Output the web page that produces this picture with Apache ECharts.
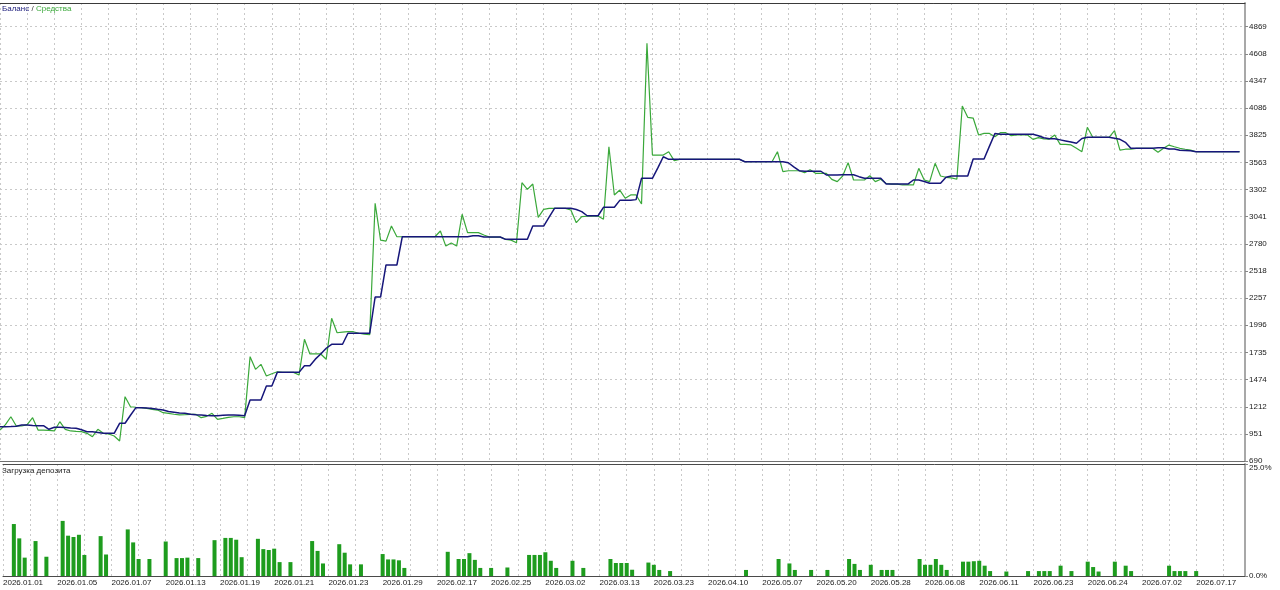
<!DOCTYPE html>
<html>
<head>
<meta charset="utf-8">
<script src="https://cdn.jsdelivr.net/npm/echarts@6/dist/echarts.min.js"></script>
<style>
html,body{margin:0;padding:0;background:#fff;}
#chart{width:1280px;height:590px;}
</style>
</head>
<body>
<div id="chart"></div>
<script>
const dateLabels = ['2026.01.01','2026.01.05','2026.01.07','2026.01.13','2026.01.19','2026.01.21','2026.01.23','2026.01.29','2026.02.17','2026.02.25','2026.03.02','2026.03.13','2026.03.23','2026.04.10','2026.05.07','2026.05.20','2026.05.28','2026.06.08','2026.06.11','2026.06.23','2026.06.24','2026.07.02','2026.07.17'];

const priceTicks = [690, 951, 1212, 1474, 1735, 1996, 2257, 2518, 2780, 3041, 3302, 3563, 3825, 4086, 4347, 4608, 4869];
const loadTicks = [0, 25];

const balance = [
1020,1020,1022,1025,1036,1036,1032,1030,1030,995,
1014,1014,1012,1008,1005,990,972,972,965,956,
956,956,1053,1053,1130,1203,1203,1200,1195,1187,
1180,1166,1160,1152,1149,1140,1135,1133,1128,1126,
1126,1130,1133,1133,1130,1125,1277,1277,1277,1412,
1412,1543,1543,1543,1543,1543,1607,1607,1670,1720,
1775,1813,1813,1813,1919,1919,1919,1919,1919,2268,
2268,2576,2576,2576,2848,2848,2848,2848,2848,2848,
2848,2848,2848,2848,2848,2848,2848,2858,2858,2845,
2845,2845,2845,2823,2823,2823,2823,2823,2951,2951,
2951,3036,3121,3121,3121,3121,3110,3090,3050,3050,
3050,3131,3131,3131,3198,3198,3198,3205,3410,3410,
3410,3510,3618,3593,3593,3593,3593,3593,3593,3593,
3593,3593,3593,3593,3593,3593,3593,3570,3570,3570,
3570,3570,3570,3570,3570,3560,3520,3483,3478,3478,
3478,3478,3442,3442,3442,3445,3445,3445,3426,3410,
3410,3410,3410,3355,3355,3355,3355,3355,3394,3394,
3380,3362,3362,3362,3420,3432,3432,3432,3432,3596,
3596,3596,3720,3842,3835,3835,3835,3835,3835,3835,
3835,3820,3800,3790,3790,3780,3770,3760,3747,3793,
3805,3805,3805,3805,3805,3795,3785,3756,3699,3699,
3699,3699,3699,3705,3705,3692,3692,3680,3678,3676,
3666,3666,3666,3666,3666,3666,3666,3666,3666
];

const equity = [
988,1040,1116,1027,1027,1040,1107,988,988,985,
979,1068,995,979,975,972,956,924,995,956,
950,930,882,1309,1212,1207,1203,1195,1187,1180,
1155,1149,1140,1133,1135,1138,1140,1107,1120,1149,
1091,1100,1110,1116,1116,1107,1694,1572,1620,1508,
1530,1549,1543,1543,1543,1517,1861,1720,1720,1720,
1669,2063,1924,1930,1934,1934,1919,1910,1905,3170,
2816,2806,2951,2848,2848,2848,2850,2848,2848,2848,
2848,2903,2758,2787,2758,3064,2887,2887,2887,2865,
2845,2845,2845,2823,2815,2790,3368,3304,3355,3035,
3112,3121,3121,3121,3121,3105,2983,3041,3045,3047,
3047,3016,3714,3250,3297,3218,3250,3250,3163,4709,
3634,3634,3634,3666,3580,3593,3593,3593,3593,3593,
3593,3593,3593,3593,3593,3593,3593,3570,3570,3570,
3570,3570,3570,3666,3474,3483,3483,3483,3464,3493,
3458,3458,3458,3400,3378,3432,3561,3394,3394,3394,
3435,3378,3401,3360,3355,3355,3346,3346,3346,3506,
3394,3378,3554,3432,3420,3415,3401,4106,3997,3990,
3827,3842,3842,3810,3849,3849,3820,3827,3827,3827,
3785,3801,3790,3788,3827,3737,3737,3731,3700,3666,
3901,3805,3805,3805,3805,3868,3682,3690,3690,3699,
3699,3699,3699,3660,3700,3730,3714,3699,3690,3682,
3666,3666,3666,3666,3666,3666,3666,3666,3666
];

const loadIndex = [2,3,4,6,8,11,12,13,14,15,18,19,23,24,25,27,30,32,33,34,36,39,41,42,43,44,47,48,49,50,51,53,57,58,59,62,63,64,66,70,71,72,73,74,
82,84,85,86,87,88,90,93,97,98,99,100,101,102,105,107,112,113,114,115,116,119,120,121,123,137,143,145,146,149,152,156,
157,158,160,162,163,164,169,170,171,172,173,174,177,178,179,180,181,182,185,189,191,192,193,195,197,200,201,202,205,207,208,215,216,217,218,220];
const loadPct = [11.6,8.4,4.1,7.8,4.3,12.3,9.0,8.7,9.2,4.7,8.9,4.8,10.4,7.5,3.8,3.8,7.7,4.0,4.0,4.1,4.0,8.0,8.5,8.5,8.1,4.2,8.3,6.0,5.8,6.1,3.1,3.1,7.8,5.6,2.8,7.1,5.2,2.6,2.6,4.9,3.7,3.7,3.5,1.8,
5.4,3.8,3.8,5.1,3.6,1.8,1.8,1.9,4.7,4.7,4.7,5.3,3.4,1.8,3.4,1.8,3.8,2.9,2.9,2.9,1.4,3.0,2.5,1.35,1.1,1.35,3.8,2.8,1.35,1.35,1.35,3.8,
2.7,1.35,2.5,1.35,1.35,1.35,3.8,2.5,2.5,3.8,2.5,1.35,3.2,3.2,3.3,3.4,2.3,1.1,1.0,1.1,1.1,1.1,1.1,2.3,1.1,3.2,2.0,1.0,3.2,2.3,1.1,2.3,1.1,1.1,1.1,1.1];

const FONT = 'Liberation Sans';
const gridDash = {show: true, lineStyle: {color: '#c9c9c9', width: 1, type: [2, 3]}};
const xMax = 229;

const chart = echarts.init(document.getElementById('chart'), null, {renderer: 'canvas'});
const baseX = {type: 'value', min: 0, max: xMax, interval: 5};

chart.setOption({
  animation: false,
  backgroundColor: '#ffffff',
  title: [
    {text: '{b|Баланс} {s|/} {g|Средства}', left: 2, top: 5, padding: 0,
     textStyle: {fontSize: 8, fontFamily: FONT, fontWeight: 'normal',
       rich: {b: {color: '#22227f', fontSize: 8, fontFamily: FONT},
              s: {color: '#333333', fontSize: 8, fontFamily: FONT},
              g: {color: '#3aa83a', fontSize: 8, fontFamily: FONT}}}},
    {text: 'Загрузка депозита', left: 2, top: 467, padding: 0,
     textStyle: {fontSize: 8, fontFamily: FONT, fontWeight: 'normal', color: '#222222'}}
  ],
  grid: [
    {left: 0, right: 35, top: 3, height: 458},
    {left: 0, right: 35, top: 464, height: 112}
  ],
  xAxis: [
    Object.assign({}, baseX, {gridIndex: 0, position: 'bottom',
      axisLine: {show: true, onZero: false, lineStyle: {color: '#707070', width: 1}},
      axisTick: {show: false}, axisLabel: {show: false}, splitLine: gridDash}),
    Object.assign({}, baseX, {gridIndex: 0, position: 'top',
      axisLine: {show: true, onZero: false, lineStyle: {color: '#3a3a3a', width: 1}},
      axisTick: {show: false}, axisLabel: {show: false}, splitLine: {show: false}}),
    Object.assign({}, baseX, {gridIndex: 1, position: 'bottom',
      axisLine: {show: true, onZero: false, lineStyle: {color: '#4a4a4a', width: 1}},
      axisTick: {show: false},
      axisLabel: {show: true, align: 'left', margin: 3, fontSize: 8, fontFamily: FONT, color: '#1a1a1a',
        formatter: function (v) { return (v % 10 === 0 && dateLabels[v / 10] !== undefined) ? dateLabels[v / 10] : ''; }},
      splitLine: gridDash}),
    Object.assign({}, baseX, {gridIndex: 1, position: 'top',
      axisLine: {show: true, onZero: false, lineStyle: {color: '#4a4a4a', width: 1}},
      axisTick: {show: false}, axisLabel: {show: false}, splitLine: {show: false}})
  ],
  yAxis: [
    {type: 'value', gridIndex: 0, position: 'right', min: 690, max: 5097,
     axisLine: {show: true, onZero: false, lineStyle: {color: '#a8a8a8', width: 2}},
     axisTick: {show: true, length: 3, lineStyle: {color: '#888888'}, customValues: priceTicks},
     axisLabel: {show: true, margin: 4, fontSize: 8, fontFamily: FONT, color: '#1a1a1a', customValues: priceTicks,
       formatter: function (v) { return String(Math.round(v)); }},
     splitLine: {show: true, lineStyle: {color: '#c9c9c9', width: 1, type: [2, 3]}}},
    {type: 'value', gridIndex: 1, position: 'right', min: 0, max: 25,
     axisLine: {show: true, onZero: false, lineStyle: {color: '#a8a8a8', width: 2}},
     axisTick: {show: true, length: 3, lineStyle: {color: '#888888'}, customValues: loadTicks},
     axisLabel: {show: true, margin: 4, fontSize: 8, fontFamily: FONT, color: '#1a1a1a', customValues: loadTicks,
       formatter: function (v) { return v >= 25 ? '\n' + v.toFixed(1) + '%' : v.toFixed(1) + '%'; }},
     splitLine: {show: false}}
  ],
  series: [
    {name: 'Средства', type: 'line', xAxisIndex: 0, yAxisIndex: 0, showSymbol: false, z: 2,
     data: equity.map(function (v, i) { return [i, v]; }),
     lineStyle: {color: '#3aa83a', width: 1.2}},
    {name: 'Баланс', type: 'line', xAxisIndex: 0, yAxisIndex: 0, showSymbol: false, z: 3,
     data: balance.map(function (v, i) { return [i, v]; }),
     lineStyle: {color: '#16167a', width: 1.5}},
    {name: 'Загрузка депозита', type: 'bar', xAxisIndex: 2, yAxisIndex: 1, barWidth: 4,
     data: loadIndex.map(function (ix, k) { return [ix, loadPct[k]]; }),
     itemStyle: {color: '#1e9c1e'}}
  ]
});
</script>
</body>
</html>
